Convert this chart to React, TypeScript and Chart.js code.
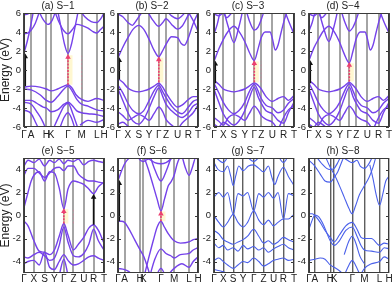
import React, { useEffect, useRef } from "react";
import { Chart, registerables } from "chart.js";
Chart.register(...registerables);

type P = [number, number];

const FONT = "'Liberation Sans', Arial, Helvetica, sans-serif";
const PURPLE = "#7542ea";
const BLUE = "#4a60ea";

// ---------- k-paths (tick labels and positions along the path, 0..100) ----------
const hexLabels = ["Γ", "A", "H", "K", "Γ", "M", "L", "H"];
const orthoLabels = ["Γ", "X", "S", "Y", "Γ", "Z", "U", "R", "T"];

const kA = [0, 9, 28, 34, 55, 72, 91, 100];
const kB = [0, 12.4, 26, 39, 51, 60, 74.4, 88, 100];
const kC = [0, 11.6, 24.8, 38.4, 50.4, 59, 73, 87, 100];
const kD = [0, 11.6, 24.8, 38.4, 50.4, 59, 73, 87, 100];
const kE = [0, 12.4, 25.7, 38, 49.8, 61.8, 74.7, 87, 100];
const kF = [0, 8.3, 27.7, 31.8, 53.7, 70.2, 88.8, 100];
const kG = [0, 11.6, 24, 36.4, 49.6, 62, 74.4, 86.8, 100];
const kH = [0, 7.3, 26.5, 31.4, 54, 69.4, 88.2, 100];

const yTicksTop = [-6, -4, -2, 0, 2, 4, 6];
const yTicksBottom = [-4, -2, 0, 2, 4];

// ---------- band energies (eV) read along each path ----------
const bandsA: P[][] = [
  [[0, 1.8], [4, 3.0], [8, 4.5], [12, 6.3]],
  [[0, 3.8], [5, 3.9], [9, 4.2], [14, 4.9], [20, 6.3]],
  [[0, 5.8], [5, 5.9], [9, 6.1]],
  [[18, 6.3], [24, 5.3], [30, 4.8], [35, 5.2], [40, 6.3]],
  [[42, 6.3], [47, 4.2], [51, 2.6], [55, 1.75], [59, 2.6], [63, 4.2], [68, 6.3]],
  [[38, 6.3], [44, 5.0], [50, 4.1], [55, 3.8], [60, 4.2], [66, 4.8], [72, 4.7], [80, 4.4], [87, 4.0], [91, 3.9], [95, 4.2], [100, 4.6]],
  [[70, 6.3], [76, 5.6], [84, 5.1], [91, 5.0], [96, 5.4], [100, 6.0]],
  [[0, -1.8], [9, -1.7], [20, -1.8], [28, -2.0], [34, -2.2], [42, -2.0], [50, -1.7], [55, -1.55], [60, -1.9], [65, -2.6], [72, -3.1], [80, -3.3], [91, -3.0], [100, -3.2]],
  [[0, -2.0], [9, -2.1], [20, -2.6], [28, -3.2], [34, -3.4], [42, -2.8], [50, -2.0], [55, -1.7], [60, -2.2], [66, -3.1], [72, -3.6], [80, -3.8], [91, -4.2], [100, -4.3]],
  [[0, -3.2], [9, -3.2], [16, -3.5], [24, -3.9], [28, -4.0], [34, -4.4], [42, -4.2], [50, -3.6], [55, -3.4], [60, -3.7], [66, -4.3], [72, -4.5], [80, -4.6], [91, -4.7], [100, -4.9]],
  [[0, -3.4], [9, -3.6], [16, -4.4], [22, -5.2], [28, -6.3]],
  [[0, -4.2], [9, -4.6], [15, -5.6], [19, -6.3]],
  [[36, -6.3], [44, -4.8], [50, -3.8], [55, -3.5], [61, -4.6], [68, -6.3]],
  [[44, -6.3], [50, -5.0], [55, -4.5], [60, -5.2], [64, -6.3]],
  [[70, -5.8], [80, -5.3], [91, -5.5], [100, -5.2]],
];

const bandsB: P[][] = [
  [[0, 1.3], [6, 2.4], [12.4, 3.4], [19, 4.3], [26, 4.7], [32, 4.3], [39, 3.2], [45, 2.1], [51, 1.4], [55, 1.9], [60, 2.7], [67, 3.5], [74.4, 3.4], [79, 2.8], [83, 2.6], [88, 3.4], [94, 4.9], [100, 6.0]],
  [[0, 5.9], [6, 5.6], [12.4, 5.0], [18, 4.7], [22, 5.1], [26, 5.6], [32, 6.3]],
  [[36, 6.3], [44, 5.2], [51, 4.6], [56, 5.0], [60, 5.4], [67, 4.8], [74.4, 4.3], [80, 4.6], [88, 5.8], [92, 6.3]],
  [[60, 6.3], [67, 5.7], [74.4, 5.4], [80, 5.7], [86, 6.3]],
  [[88, 6.1], [94, 5.2], [100, 4.1]],
  [[0, -0.9], [6, -1.3], [12.4, -1.9], [19, -2.2], [26, -2.3], [32, -2.2], [39, -2.0], [45, -1.7], [51, -1.4], [55, -1.7], [60, -2.4], [67, -3.3], [74.4, -3.9], [80, -3.7], [88, -3.1], [94, -2.8], [100, -2.8]],
  [[0, -1.6], [6, -2.4], [12.4, -3.5], [19, -4.3], [26, -4.6], [32, -4.3], [39, -3.2], [45, -2.2], [51, -1.6], [56, -2.3], [60, -2.9], [67, -3.8], [74.4, -4.4], [80, -4.6], [88, -3.9], [94, -3.3], [100, -3.1]],
  [[0, -2.0], [6, -3.2], [12.4, -4.5], [19, -5.4], [26, -5.7], [32, -5.2], [39, -4.0], [45, -2.8], [51, -1.9], [56, -2.8], [60, -3.6], [67, -4.3], [74.4, -4.8], [80, -5.0], [88, -4.5], [94, -3.8], [100, -3.5]],
  [[0, -4.4], [6, -4.8], [12.4, -5.3], [19, -5.0], [26, -4.7], [32, -4.9], [39, -5.3], [45, -4.6], [51, -3.9], [56, -4.4], [60, -5.2], [67, -5.8], [74.4, -6.3]],
  [[0, -5.7], [6, -5.5], [12.4, -5.9], [19, -6.3]],
  [[74.4, -6.3], [80, -5.6], [88, -5.0], [94, -4.5], [100, -3.7]],
];

const bandsC: P[][] = [
  [[0, 0.9], [6, 2.2], [11.6, 3.2], [18, 4.1], [24.8, 4.6], [31, 4.1], [38.4, 3.0], [44, 1.9], [50.4, 1.0], [55, 2.2], [59, 3.4], [64, 4.0], [70, 4.0], [73, 3.3], [76.5, 2.1], [80, 2.6], [84, 4.0], [88, 5.3], [92, 6.3]],
  [[12, 6.3], [18, 4.5], [24.8, 2.9], [31, 4.5], [36, 6.3]],
  [[0, 3.8], [4, 4.8], [8, 6.3]],
  [[40, 6.3], [45, 5.0], [50.4, 4.2], [55, 4.5], [59, 5.3], [63, 6.3]],
  [[88, 6.3], [94, 5.0], [100, 3.8]],
  [[0, 5.9], [6, 5.7], [11.6, 6.0], [16, 5.5], [20, 5.8], [24, 6.3]],
  [[0, -1.1], [6, -1.5], [11.6, -2.0], [18, -2.2], [24.8, -2.3], [31, -2.2], [38.4, -2.0], [44, -1.7], [50.4, -1.35], [55, -1.6], [59, -2.0], [65, -2.8], [73, -3.3], [80, -3.0], [87, -2.8], [93, -3.2], [100, -2.7]],
  [[0, -1.4], [6, -2.4], [11.6, -3.4], [18, -4.2], [24.8, -4.6], [31, -4.3], [38.4, -3.4], [44, -2.3], [50.4, -1.5], [55, -2.2], [59, -3.0], [65, -3.7], [73, -4.0], [80, -4.5], [87, -4.2], [93, -3.5], [100, -3.0]],
  [[0, -2.0], [6, -3.4], [11.6, -4.6], [18, -5.4], [24.8, -5.8], [31, -5.4], [38.4, -4.3], [44, -3.0], [50.4, -1.8], [55, -2.8], [59, -3.5], [65, -4.3], [73, -4.6], [80, -5.3], [87, -5.6], [93, -4.5], [100, -3.4]],
  [[0, -5.0], [6, -5.4], [11.6, -5.8], [18, -5.0], [24.8, -4.7], [31, -4.9], [38.4, -5.3], [44, -4.6], [50.4, -3.8], [55, -4.2], [59, -4.8], [65, -5.2], [73, -5.5], [80, -6.3]],
  [[0, -5.7], [6, -6.0], [11.6, -5.5], [18, -5.8], [24.8, -6.3]],
  [[80, -6.3], [87, -5.0], [93, -4.2], [100, -3.8]],
];

const bandsD: P[][] = [
  [[0, 1.0], [6, 2.3], [11.6, 3.2], [18, 4.1], [24.8, 4.6], [31, 4.1], [38.4, 2.9], [44, 1.7], [50.4, 0.75], [55, 2.0], [59, 3.3], [64, 4.0], [70, 4.0], [73, 3.3], [76.5, 2.1], [80, 2.6], [84, 4.0], [88, 5.3], [92, 6.3]],
  [[12, 6.3], [18, 4.5], [24.8, 3.0], [31, 4.5], [36, 6.3]],
  [[0, 4.1], [4, 5.0], [8, 6.3]],
  [[40, 6.3], [45, 5.0], [50.4, 4.1], [55, 4.5], [59, 5.3], [63, 6.3]],
  [[88, 6.3], [94, 5.0], [100, 3.9]],
  [[0, 5.9], [6, 5.7], [11.6, 6.0], [16, 5.5], [20, 5.8], [24, 6.3]],
  [[0, -1.1], [6, -1.5], [11.6, -2.0], [18, -2.2], [24.8, -2.3], [31, -2.2], [38.4, -2.0], [44, -1.7], [50.4, -1.3], [55, -1.6], [59, -2.0], [65, -2.8], [73, -3.3], [80, -3.0], [87, -2.8], [93, -3.2], [100, -2.7]],
  [[0, -1.4], [6, -2.4], [11.6, -3.4], [18, -4.2], [24.8, -4.6], [31, -4.3], [38.4, -3.4], [44, -2.3], [50.4, -1.45], [55, -2.2], [59, -3.0], [65, -3.7], [73, -4.0], [80, -4.5], [87, -4.2], [93, -3.5], [100, -3.0]],
  [[0, -2.0], [6, -3.4], [11.6, -4.6], [18, -5.4], [24.8, -5.8], [31, -5.4], [38.4, -4.3], [44, -3.0], [50.4, -1.8], [55, -2.8], [59, -3.5], [65, -4.3], [73, -4.6], [80, -5.3], [87, -5.6], [93, -4.5], [100, -3.4]],
  [[0, -5.0], [6, -5.4], [11.6, -5.8], [18, -5.0], [24.8, -4.7], [31, -4.9], [38.4, -5.3], [44, -4.6], [50.4, -3.8], [55, -4.2], [59, -4.8], [65, -5.2], [73, -5.5], [80, -6.3]],
  [[0, -5.7], [6, -6.0], [11.6, -5.5], [18, -5.8], [24.8, -6.3]],
  [[80, -6.3], [87, -5.0], [93, -4.2], [100, -3.8]],
];

const bandsE: P[][] = [
  [[0, 0.7], [5, 2.0], [9, 3.0], [12.4, 3.5], [19, 3.8], [25.7, 3.0], [32, 3.8], [38, 3.7], [44, 2.4], [49.8, 0.6], [55, 2.3], [61.8, 3.0], [68, 2.9], [74.7, 2.7], [81, 2.3], [87, 1.9], [93, 2.5], [100, 2.9]],
  [[0, 3.5], [5, 4.1], [12.4, 4.1], [19, 3.7], [25.7, 3.3], [32, 3.7], [38, 4.1], [44, 4.2], [49.8, 3.9], [55, 4.3], [61.8, 4.3], [68, 3.6], [74.7, 3.2], [81, 3.0], [87, 3.0], [93, 2.9], [100, 2.8]],
  [[0, 4.3], [5, 4.8], [12.4, 4.6], [19, 4.9], [25.7, 4.3], [32, 4.8], [38, 4.6], [44, 4.9], [49.8, 4.5], [55, 4.8], [61.8, 4.7], [68, 4.9], [74.7, 4.4], [81, 4.7], [87, 4.8], [93, 4.7], [100, 4.6]],
  [[0, -0.5], [5, -0.9], [12.4, -2.2], [19, -3.1], [25.7, -3.2], [32, -3.4], [38, -3.0], [44, -1.8], [49.8, -0.7], [55, -1.7], [61.8, -3.0], [68, -2.5], [74.7, -1.9], [81, -1.1], [87, -0.8], [93, -1.3], [100, -2.4]],
  [[0, -3.6], [5, -3.7], [12.4, -3.4], [19, -3.2], [25.7, -3.5], [32, -3.9], [38, -3.7], [44, -2.6], [49.8, -1.0], [55, -2.3], [61.8, -3.5], [68, -3.6], [74.7, -3.3], [81, -2.5], [87, -1.2], [93, -2.2], [100, -3.0]],
  [[0, -4.2], [5, -4.0], [12.4, -3.9], [19, -4.3], [25.7, -3.2], [32, -4.5], [38, -4.7], [44, -4.0], [49.8, -3.4], [55, -3.9], [61.8, -4.3], [68, -4.2], [74.7, -3.9], [81, -3.6], [87, -3.5], [93, -3.7], [100, -3.9]],
  [[44, -5.2], [49.8, -3.8], [55, -5.2]],
];

const bandsF: P[][] = [
  [[32, 5.2], [38, 4.0], [44, 2.6], [49, 1.4], [53.7, 0.4], [58, 1.4], [63, 2.6], [66, 2.9], [70.2, 3.5], [74, 4.5], [78, 5.2]],
  [[40, 5.2], [46, 4.0], [53.7, 3.0], [61, 4.0], [67, 5.2]],
  [[0, 3.0], [4, 3.8], [8.3, 4.5], [14, 5.0], [20, 5.2]],
  [[24, 5.2], [28, 4.8], [31.8, 4.7], [38, 4.9], [46, 4.6], [53.7, 4.5], [60, 4.6], [66, 4.9], [70.2, 5.2]],
  [[80, 5.2], [84, 4.2], [88.8, 3.5], [93, 4.2], [97, 5.0], [100, 4.9]],
  [[0, -0.5], [4, -0.5], [8.3, -0.6], [14, -1.2], [20, -2.0], [27.7, -3.0], [31.8, -3.5], [36, -4.3], [40, -5.2]],
  [[33, -5.2], [38, -3.8], [44, -2.2], [49, -1.0], [53.7, -0.5], [58, -1.0], [63, -1.6], [70.2, -2.2], [78, -2.4], [88.8, -2.3], [94, -2.1], [100, -2.0]],
  [[40, -5.2], [46, -3.8], [53.7, -2.9], [60, -3.3], [66, -3.5], [70.2, -3.7], [78, -3.4], [88.8, -3.3], [94, -3.0], [100, -2.8]],
  [[0, -4.6], [8.3, -4.7], [14, -4.9], [18, -5.2]],
  [[48, -5.2], [53.7, -4.6], [59, -5.2]],
  [[62, -5.2], [70.2, -4.6], [80, -4.2], [88.8, -4.5], [94, -4.0], [100, -3.6]],
];

const bandsG: P[][] = [
  [[0, 4.6], [5, 4.0], [11.6, 3.8], [17, 4.3], [21, 3.4], [24, 2.6], [27, 3.4], [31, 4.3], [36.4, 3.9], [43, 4.3], [49.6, 4.4], [56, 4.1], [62, 3.8], [68, 4.3], [72, 3.4], [76, 2.7], [80, 3.4], [86.8, 4.2], [93, 3.4], [100, 2.6]],
  [[0, 5.2], [11.6, 4.6], [18, 5.2]],
  [[40, 5.2], [49.6, 4.7], [58, 5.2]],
  [[80, 5.2], [86.8, 4.6], [93, 5.2]],
  [[0, 1.6], [6, 2.0], [11.6, 1.6], [17, 2.0], [24, 0.1], [30, 1.9], [36.4, 1.7], [42, 2.0], [49.6, 0.4], [56, 1.9], [62, 1.6], [68, 2.0], [74.4, 1.5], [80, 2.0], [86.8, -0.3], [93, 1.9], [100, 1.7]],
  [[0, 0.0], [6, -0.6], [11.6, -1.0], [17, -0.6], [24, 0.1], [30, -0.6], [36.4, -1.0], [42, -0.6], [49.6, 0.4], [56, -0.4], [62, -0.8], [68, -0.4], [74.4, -0.9], [80, -0.6], [86.8, -0.3], [93, -0.3], [100, 0.1]],
  [[0, -1.3], [6, -1.6], [11.6, -2.1], [17, -2.3], [24, -2.5], [30, -2.3], [36.4, -2.1], [42, -1.8], [49.6, -1.2], [56, -1.8], [62, -2.4], [68, -2.2], [74.4, -2.5], [80, -2.3], [86.8, -1.9], [93, -2.1], [100, -2.3]],
  [[0, -2.4], [6, -2.8], [11.6, -2.6], [17, -3.0], [24, -2.8], [30, -3.1], [36.4, -2.6], [42, -2.9], [49.6, -2.7], [56, -3.0], [62, -2.8], [68, -3.2], [74.4, -2.9], [80, -2.7], [86.8, -2.5], [93, -2.8], [100, -3.0]],
  [[0, -3.9], [6, -3.7], [11.6, -4.0], [17, -4.3], [24, -4.6], [30, -4.3], [36.4, -4.0], [42, -4.1], [49.6, -3.7], [56, -4.0], [62, -4.4], [68, -4.2], [74.4, -3.9], [80, -3.8], [86.8, -3.7], [93, -3.9], [100, -3.8]],
  [[0, -4.7], [11.6, -4.9], [24, -5.2]],
];

const bandsH: P[][] = [
  [[0, 0.15], [4, 0.15], [7.3, 0.0], [14, -0.6], [20, -1.3], [26.5, -1.9], [31.4, -2.3], [38, -1.7], [46, -0.9], [54, -0.6], [60, -1.2], [65, -1.9], [69.4, -2.0], [78, -2.0], [88.2, -2.6], [94, -2.4], [100, -2.5]],
  [[0, -1.2], [4, -0.4], [7.3, 0.05], [12, -0.1], [18, -0.8], [26.5, -2.2], [31.4, -2.6], [38, -2.2], [46, -1.3], [54, -1.0], [60, -1.8], [65, -2.6], [69.4, -3.0], [78, -3.1], [88.2, -3.2], [94, -2.8], [100, -2.9]],
  [[0, 4.8], [7.3, 4.3], [14, 3.6], [20, 3.0], [26.5, 2.9], [31.4, 3.3], [36, 3.8], [40, 4.5], [44, 5.2]],
  [[20, 5.2], [26.5, 4.2], [31.4, 3.6], [38, 2.6], [44, 1.6], [50, 0.6], [54, 0.15], [58, 0.8], [63, 1.8], [69.4, 2.6], [75, 3.3], [80, 4.2], [84, 5.2]],
  [[76, 4.4], [80, 3.2], [84, 1.8], [88.2, 0.9], [92, 1.8], [96, 3.0], [100, 3.4]],
  [[40, 5.2], [48, 4.8], [54, 4.6], [60, 4.8], [64, 4.3], [69.4, 4.1], [74, 4.4], [80, 5.2]],
  [[8, 5.2], [16, 4.5], [22, 4.1], [26.5, 4.0], [31.4, 4.1], [36, 4.6], [40, 5.2]],
  [[0, -3.9], [7.3, -3.8], [14, -3.7], [20, -3.8], [26.5, -4.3], [31.4, -4.5], [38, -4.8], [44, -5.2]],
  [[44, -5.2], [50, -4.3], [54, -3.9], [58, -4.3], [64, -5.2]],
  [[64, -5.2], [69.4, -4.6], [78, -4.2], [88.2, -4.0], [94, -3.6], [100, -3.8]],
  [[44, -3.4], [50, -2.2], [54, -1.8], [58, -2.3], [64, -3.6], [69.4, -4.2]],
];

// ---------- arrows: [k, from, to] ----------
const blackA = [1.6, -1.7, 1.6];
const redA = [55, -1.55, 1.55];
const blackB = [1.6, -1.0, 1.2];
const redB = [51, -1.3, 1.3];
const blackC = [1.6, -1.4, 0.85];
const redC = [50.4, -1.3, 0.9];
const blackD = [1.6, -1.4, 0.9];
const redD = [50.4, -1.2, 0.7];
const blackE = [87, -0.8, 1.8];
const redE = [49.8, -0.7, 0.55];
const blackF = [1.6, -0.5, 3.0];
const redF = [53.7, -0.5, 0.35];
const faintA = [72, -2.0, 1.5];
const faintB = [60, -1.4, 1.3];
const faintC = [59, -1.3, 0.9];
const faintE = [61.8, -0.7, 0.5];

type Spec = {
  title: string;
  kPos: number[];
  kLab: string[];
  bands: P[][];
  yMin: number;
  yMax: number;
  yTicks: number[];
  color: string;
  lw: number;
  grid: string;
  gw: number;
  col: number;
  row: number;
  black?: number[];
  red?: number[];
  faint?: number[];
};

const panels: Spec[] = [
  { title: "(a) S−1", kPos: kA, kLab: hexLabels, bands: bandsA, yMin: -6, yMax: 6, yTicks: yTicksTop, color: PURPLE, lw: 1.4, grid: "#a4a4a4", gw: 2, col: 0, row: 0, black: blackA, red: redA, faint: faintA },
  { title: "(b) S−2", kPos: kB, kLab: orthoLabels, bands: bandsB, yMin: -6, yMax: 6, yTicks: yTicksTop, color: PURPLE, lw: 1.4, grid: "#a4a4a4", gw: 2, col: 1, row: 0, black: blackB, red: redB, faint: faintB },
  { title: "(c) S−3", kPos: kC, kLab: orthoLabels, bands: bandsC, yMin: -6, yMax: 6, yTicks: yTicksTop, color: PURPLE, lw: 1.4, grid: "#a4a4a4", gw: 2, col: 2, row: 0, black: blackC, red: redC, faint: faintC },
  { title: "(d) S−4", kPos: kD, kLab: orthoLabels, bands: bandsD, yMin: -6, yMax: 6, yTicks: yTicksTop, color: PURPLE, lw: 1.4, grid: "#a4a4a4", gw: 2, col: 3, row: 0, black: blackD, red: redD },
  { title: "(e) S−5", kPos: kE, kLab: orthoLabels, bands: bandsE, yMin: -5, yMax: 5, yTicks: yTicksBottom, color: PURPLE, lw: 1.4, grid: "#a4a4a4", gw: 2, col: 0, row: 1, black: blackE, red: redE, faint: faintE },
  { title: "(f) S−6", kPos: kF, kLab: hexLabels, bands: bandsF, yMin: -5, yMax: 5, yTicks: yTicksBottom, color: PURPLE, lw: 1.4, grid: "#a4a4a4", gw: 2, col: 1, row: 1, black: blackF, red: redF },
  { title: "(g) S−7", kPos: kG, kLab: orthoLabels, bands: bandsG, yMin: -5, yMax: 5, yTicks: yTicksBottom, color: BLUE, lw: 1.1, grid: "#5e5e5e", gw: 1.4, col: 2, row: 1 },
  { title: "(h) S−8", kPos: kH, kLab: hexLabels, bands: bandsH, yMin: -5, yMax: 5, yTicks: yTicksBottom, color: BLUE, lw: 1.1, grid: "#5e5e5e", gw: 1.4, col: 3, row: 1 },
];

const COL_LEFT = [24, 118, 214, 309];
const PLOT_W = 80;
const AXIS_W = 24;
const PAD_R = 8;
const ROW_TOP = [0, 145];
const ROW_H = [141, 142];

function arrowSet(a: number[], color: string, dash: number[], order: number) {
  return {
    data: [{ x: a[0], y: a[1] }, { x: a[0], y: a[2] - 0.2 }],
    borderColor: color,
    borderWidth: 1.6,
    borderDash: dash,
    pointRadius: [0, 3.2],
    pointStyle: "triangle",
    pointBackgroundColor: color,
    pointBorderColor: color,
    pointBorderWidth: 0,
    tension: 0,
    order,
  };
}

function Panel({ s }: { s: Spec }) {
  const ref = useRef<HTMLCanvasElement>(null);
  useEffect(() => {
    const datasets: any[] = s.bands.map((b) => ({
      data: b.map(([x, y]) => ({ x, y })),
      borderColor: s.color,
      borderWidth: s.lw,
      pointRadius: 0,
      cubicInterpolationMode: "monotone",
      fill: false,
      order: 1,
    }));
    if (s.faint) {
      datasets.push({
        data: [{ x: s.faint[0], y: s.faint[1] }, { x: s.faint[0], y: s.faint[2] }],
        borderColor: "rgba(240,110,150,0.35)",
        borderWidth: 1,
        borderDash: [2, 2],
        pointRadius: 0,
        order: 2,
      });
    }
    if (s.red) {
      datasets.push({
        data: [{ x: s.red[0] + 2.5, y: s.red[1] }, { x: s.red[0] + 2.5, y: s.red[2] }],
        borderColor: "rgba(255,240,170,0.55)",
        borderWidth: 5,
        pointRadius: 0,
        order: 3,
      });
      datasets.push(arrowSet(s.red, "#ec3f70", [2, 1.2], -1));
    }
    if (s.black) datasets.push(arrowSet(s.black, "#111111", [], -2));

    const title = s.title;
    const chart = new Chart(ref.current!, {
      type: "line",
      data: { datasets },
      options: {
        animation: false,
        responsive: false,
        maintainAspectRatio: false,
        events: [],
        layout: { padding: { left: 0, right: PAD_R, top: 13, bottom: 0 } },
        plugins: { legend: { display: false }, tooltip: { enabled: false }, title: { display: false } },
        scales: {
          x: {
            type: "linear",
            min: 0,
            max: 100,
            afterBuildTicks: (sc: any) => {
              sc.ticks = s.kPos.map((v) => ({ value: v }));
            },
            afterFit: (sc: any) => {
              sc.height = 14;
            },
            ticks: {
              autoSkip: false,
              maxRotation: 0,
              padding: s.row === 0 ? 2 : 0,
              color: "#222",
              font: { family: FONT, size: 10 },
              callback: (_v: any, i: number) => s.kLab[i],
            },
            grid: {
              drawTicks: false,
              tickLength: 0,
              lineWidth: s.gw,
              color: (c: any) => (c.tick && (c.tick.value === 0 || c.tick.value === 100) ? "#444" : s.grid),
            },
            border: { display: false },
          },
          y: {
            type: "linear",
            min: s.yMin,
            max: s.yMax,
            afterBuildTicks: (sc: any) => {
              sc.ticks = s.yTicks.map((v) => ({ value: v }));
            },
            afterFit: (sc: any) => {
              sc.width = AXIS_W;
            },
            ticks: {
              padding: 3,
              color: "#222",
              font: { family: FONT, size: 9.5 },
              callback: (v: any) => String(v),
            },
            grid: { display: false, drawTicks: false, tickLength: 0 },
            border: { display: false },
            title: {
              display: s.col === 0,
              text: "Energy (eV)",
              color: "#222",
              font: { family: FONT, size: 12, lineHeight: 1 },
              padding: 0,
            },
          },
        },
      },
      plugins: [
        {
          id: "frameAndTitle",
          afterDatasetsDraw(ch: any) {
            const { ctx, chartArea: a } = ch;
            const ys = ch.scales.y;
            ctx.save();
            ctx.strokeStyle = "#3a3a3a";
            ctx.lineWidth = 1;
            ctx.strokeRect(a.left + 0.5, a.top + 0.5, a.right - a.left - 1, a.bottom - a.top - 1);
            // inward mirror tick marks on both vertical edges
            ctx.beginPath();
            for (const t of ys.ticks) {
              const py = Math.round(ys.getPixelForValue(t.value)) + 0.5;
              ctx.moveTo(a.left, py);
              ctx.lineTo(a.left + 3, py);
              ctx.moveTo(a.right - 3, py);
              ctx.lineTo(a.right, py);
            }
            ctx.stroke();
            ctx.restore();
          },
          afterDraw(ch: any) {
            const { ctx, chartArea: a } = ch;
            ctx.save();
            ctx.font = `10px ${FONT}`;
            ctx.fillStyle = "#222";
            ctx.textAlign = "center";
            ctx.textBaseline = "middle";
            ctx.fillText(title, (a.left + a.right) / 2 - 6, a.top - 7);
            ctx.restore();
          },
        },
      ],
    } as any);
    return () => chart.destroy();
  }, []);
  return (
    <canvas
      ref={ref}
      width={AXIS_W + PLOT_W + PAD_R}
      height={ROW_H[s.row]}
      style={{ position: "absolute", left: COL_LEFT[s.col] - AXIS_W, top: ROW_TOP[s.row] }}
    />
  );
}

export default function App() {
  return (
    <div style={{ position: "absolute", left: 0, top: 0, width: 392, height: 285, overflow: "hidden", background: "#fff" }}>
      {panels.map((p) => (
        <Panel key={p.title} s={p} />
      ))}
    </div>
  );
}
